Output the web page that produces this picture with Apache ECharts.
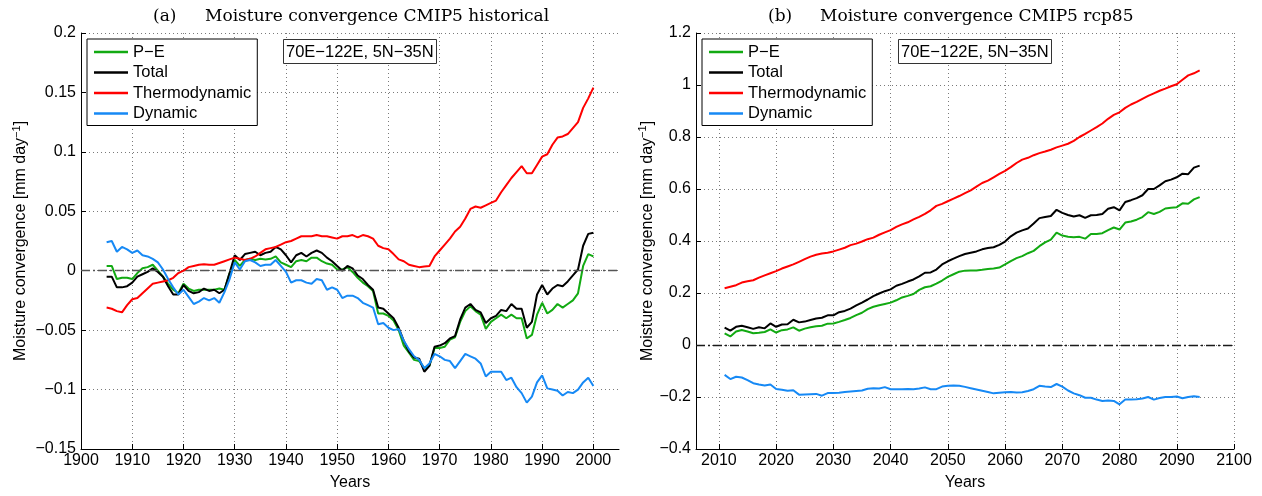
<!DOCTYPE html>
<html>
<head>
<meta charset="utf-8">
<script src="https://cdn.jsdelivr.net/npm/echarts@6/dist/echarts.min.js"></script>
<style>html,body{margin:0;padding:0;background:#fff}#c{width:1262px;height:496px}</style>
</head>
<body>
<div id="c"></div>
<script>
// ---------- Panel (a): CMIP5 historical ----------
const yearsA = [1905,1906,1907,1908,1909,1910,1911,1912,1913,1914,1915,1916,1917,1918,1919,1920,1921,1922,1923,1924,1925,1926,1927,1928,1929,1930,1931,1932,1933,1934,1935,1936,1937,1938,1939,1940,1941,1942,1943,1944,1945,1946,1947,1948,1949,1950,1951,1952,1953,1954,1955,1956,1957,1958,1959,1960,1961,1962,1963,1964,1965,1966,1967,1968,1969,1970,1971,1972,1973,1974,1975,1976,1977,1978,1979,1980,1981,1982,1983,1984,1985,1986,1987,1988,1989,1990,1991,1992,1993,1994,1995,1996,1997,1998,1999,2000];
const peA = [0.004,0.004,-0.007,-0.006,-0.006,-0.007,-0.002,0.002,0.003,0.005,
  0.000,-0.005,-0.011,-0.016,-0.019,-0.011,-0.015,-0.017,-0.016,-0.016,
  -0.016,-0.016,-0.015,-0.016,-0.002,0.009,0.004,0.009,0.010,0.009,
  0.010,0.0095,0.010,0.012,0.007,0.005,0.003,0.008,0.009,0.008,
  0.011,0.011,0.008,0.006,0.005,0.001,0.001,0.003,-0.001,-0.006,
  -0.010,-0.013,-0.017,-0.036,-0.036,-0.038,-0.042,-0.050,-0.063,-0.069,
  -0.075,-0.076,-0.082,-0.080,-0.065,-0.065,-0.064,-0.058,-0.056,-0.043,
  -0.034,-0.030,-0.034,-0.037,-0.049,-0.043,-0.040,-0.037,-0.040,-0.037,
  -0.040,-0.040,-0.057,-0.054,-0.037,-0.027,-0.036,-0.033,-0.028,-0.031,
  -0.028,-0.025,-0.019,0.004,0.014,0.012];
const totalA = [-0.005,-0.005,-0.014,-0.014,-0.013,-0.010,-0.005,-0.003,-0.001,0.002,
  -0.001,-0.005,-0.013,-0.020,-0.020,-0.012,-0.017,-0.019,-0.018,-0.015,
  -0.017,-0.016,-0.019,-0.016,-0.002,0.013,0.009,0.014,0.015,0.016,
  0.013,0.015,0.016,0.020,0.018,0.013,0.007,0.013,0.015,0.012,
  0.015,0.017,0.015,0.011,0.008,0.004,0.000,0.004,0.002,-0.004,
  -0.007,-0.012,-0.016,-0.031,-0.032,-0.036,-0.040,-0.048,-0.059,-0.068,
  -0.073,-0.074,-0.085,-0.080,-0.064,-0.063,-0.061,-0.057,-0.055,-0.041,
  -0.031,-0.028,-0.033,-0.035,-0.044,-0.040,-0.038,-0.033,-0.034,-0.028,
  -0.032,-0.032,-0.048,-0.043,-0.020,-0.012,-0.020,-0.015,-0.012,-0.013,
  -0.009,-0.004,0.001,0.021,0.031,0.032];
const thermoA = [-0.031,-0.032,-0.034,-0.035,-0.029,-0.024,-0.023,-0.019,-0.015,-0.011,
  -0.010,-0.009,-0.008,-0.006,-0.002,0.000,0.003,0.004,0.005,0.0055,
  0.005,0.005,0.0065,0.008,0.0095,0.011,0.010,0.009,0.010,0.012,
  0.015,0.018,0.019,0.020,0.022,0.024,0.025,0.027,0.029,0.029,
  0.029,0.030,0.029,0.029,0.028,0.027,0.029,0.029,0.030,0.028,
  0.030,0.029,0.027,0.021,0.019,0.018,0.014,0.0095,0.008,0.005,
  0.004,0.003,0.0035,0.004,0.012,0.017,0.022,0.027,0.033,0.037,
  0.044,0.052,0.054,0.053,0.055,0.057,0.059,0.066,0.072,0.078,
  0.083,0.088,0.082,0.082,0.089,0.096,0.098,0.106,0.112,0.113,
  0.115,0.120,0.125,0.137,0.145,0.154];
const dynA = [0.024,0.025,0.016,0.020,0.018,0.015,0.017,0.013,0.012,0.010,
  0.007,0.001,-0.007,-0.014,-0.020,-0.016,-0.022,-0.028,-0.026,-0.023,
  -0.025,-0.023,-0.027,-0.018,-0.007,0.007,0.001,0.008,0.009,0.007,
  0.004,0.005,0.005,0.009,0.004,-0.001,-0.010,-0.008,-0.008,-0.010,
  -0.011,-0.007,-0.008,-0.016,-0.014,-0.016,-0.023,-0.021,-0.021,-0.023,
  -0.027,-0.029,-0.031,-0.045,-0.044,-0.048,-0.050,-0.049,-0.059,-0.066,
  -0.072,-0.075,-0.082,-0.078,-0.070,-0.072,-0.075,-0.076,-0.082,-0.076,
  -0.070,-0.072,-0.074,-0.078,-0.089,-0.085,-0.085,-0.085,-0.092,-0.090,
  -0.098,-0.103,-0.111,-0.106,-0.094,-0.088,-0.099,-0.100,-0.101,-0.105,
  -0.102,-0.103,-0.100,-0.094,-0.090,-0.097];

// ---------- Panel (b): CMIP5 rcp85 ----------
const yearsB = [2011,2012,2013,2014,2015,2016,2017,2018,2019,2020,2021,2022,2023,2024,2025,2026,2027,2028,2029,2030,2031,2032,2033,2034,2035,2036,2037,2038,2039,2040,2041,2042,2043,2044,2045,2046,2047,2048,2049,2050,2051,2052,2053,2054,2055,2056,2057,2058,2059,2060,2061,2062,2063,2064,2065,2066,2067,2068,2069,2070,2071,2072,2073,2074,2075,2076,2077,2078,2079,2080,2081,2082,2083,2084,2085,2086,2087,2088,2089,2090,2091,2092,2093,2094];
const peB = [0.045,0.033,0.052,0.058,0.052,0.045,0.047,0.050,0.060,0.048,
  0.057,0.060,0.068,0.055,0.063,0.068,0.072,0.074,0.082,0.083,
  0.089,0.096,0.104,0.115,0.124,0.138,0.147,0.153,0.158,0.163,
  0.172,0.183,0.189,0.196,0.212,0.222,0.226,0.236,0.248,0.262,
  0.272,0.282,0.286,0.287,0.287,0.289,0.292,0.294,0.298,0.310,
  0.323,0.334,0.342,0.353,0.362,0.380,0.395,0.405,0.432,0.421,
  0.416,0.414,0.416,0.409,0.427,0.427,0.430,0.442,0.452,0.444,
  0.471,0.475,0.482,0.492,0.511,0.504,0.512,0.525,0.528,0.530,
  0.545,0.543,0.560,0.569];
const totalB = [0.067,0.055,0.070,0.074,0.068,0.062,0.068,0.064,0.083,0.070,
  0.079,0.080,0.097,0.087,0.090,0.096,0.102,0.105,0.114,0.114,
  0.126,0.131,0.140,0.152,0.163,0.175,0.188,0.198,0.207,0.214,
  0.228,0.235,0.244,0.252,0.264,0.278,0.279,0.290,0.310,0.322,
  0.332,0.342,0.350,0.355,0.360,0.368,0.373,0.376,0.385,0.398,
  0.418,0.432,0.441,0.448,0.467,0.488,0.492,0.496,0.520,0.508,
  0.500,0.494,0.499,0.489,0.499,0.500,0.504,0.524,0.530,0.518,
  0.550,0.557,0.565,0.576,0.600,0.600,0.614,0.630,0.636,0.645,
  0.659,0.657,0.682,0.690];
const thermoB = [0.218,0.224,0.230,0.240,0.245,0.249,0.259,0.268,0.276,0.284,
  0.294,0.302,0.310,0.320,0.330,0.340,0.347,0.352,0.355,0.360,
  0.367,0.374,0.384,0.390,0.398,0.407,0.413,0.424,0.433,0.442,
  0.454,0.464,0.472,0.483,0.493,0.504,0.518,0.535,0.543,0.553,
  0.563,0.573,0.584,0.595,0.609,0.623,0.632,0.645,0.658,0.670,
  0.684,0.700,0.713,0.720,0.730,0.738,0.744,0.751,0.760,0.767,
  0.774,0.785,0.800,0.812,0.825,0.838,0.852,0.870,0.885,0.895,
  0.912,0.925,0.935,0.947,0.958,0.968,0.978,0.986,0.995,1.003,
  1.020,1.037,1.045,1.056];
const dynB = [-0.115,-0.131,-0.122,-0.125,-0.135,-0.147,-0.152,-0.156,-0.152,-0.169,
  -0.172,-0.176,-0.174,-0.191,-0.190,-0.189,-0.188,-0.195,-0.185,-0.185,
  -0.184,-0.181,-0.179,-0.177,-0.175,-0.168,-0.166,-0.167,-0.162,-0.170,
  -0.170,-0.170,-0.169,-0.170,-0.167,-0.163,-0.170,-0.170,-0.160,-0.157,
  -0.156,-0.157,-0.161,-0.166,-0.171,-0.176,-0.181,-0.186,-0.184,-0.182,
  -0.181,-0.183,-0.182,-0.177,-0.170,-0.157,-0.160,-0.162,-0.150,-0.160,
  -0.175,-0.186,-0.193,-0.203,-0.203,-0.210,-0.215,-0.213,-0.215,-0.228,
  -0.210,-0.210,-0.209,-0.206,-0.200,-0.210,-0.204,-0.200,-0.200,-0.198,
  -0.205,-0.200,-0.197,-0.200];

// ---------- Tick labels / text ----------
const xTicksA = [1900,1910,1920,1930,1940,1950,1960,1970,1980,1990,2000];
const xTicksB = [2010,2020,2030,2040,2050,2060,2070,2080,2090,2100];
const seriesNames = ['P\u2212E','Total','Thermodynamic','Dynamic'];
const colors = ['#12aa12','#000000','#ff0000','#1689f5'];
const regionText = '70E\u2212122E, 5N\u221235N';

const SANS = 'Liberation Sans, Arial, Helvetica, sans-serif';
const SERIF = 'DejaVu Serif, serif';
const fmtY = v => String(+v.toFixed(4)).replace('-', '\u2212');

function makeX(idx, min, max, ticks) {
  return {
    type: 'value', gridIndex: idx, min: min, max: max,
    name: 'Years', nameLocation: 'middle', nameGap: 26,
    nameTextStyle: {fontFamily: SANS, fontSize: 16, color: '#000'},
    axisLine: {show: true, onZero: false, lineStyle: {color: '#000', width: 1}},
    axisTick: {show: true, inside: true, length: 5, lineStyle: {color: '#000'}, customValues: ticks},
    axisLabel: {fontFamily: SANS, fontSize: 16, color: '#000', margin: 4, customValues: ticks, formatter: v => String(v)},
    splitLine: {show: true, lineStyle: {type: [1, 3], color: '#7a7a7a', width: 1}}
  };
}
function makeY(idx, min, max, interval, gap) {
  return {
    type: 'value', gridIndex: idx, min: min, max: max, interval: interval,
    name: 'Moisture convergence [mm day{sup|\u22121}]', nameLocation: 'middle', nameGap: gap,
    nameTextStyle: {fontFamily: SANS, fontSize: 16, color: '#000',
      rich: {sup: {fontFamily: SANS, fontSize: 11, color: '#000', padding: [0, 0, 9, 0]}}},
    axisLine: {show: true, onZero: false, lineStyle: {color: '#000', width: 1}},
    axisTick: {show: true, inside: true, length: 5, lineStyle: {color: '#000'}},
    axisLabel: {fontFamily: SANS, fontSize: 16, color: '#000', margin: 5, formatter: fmtY},
    splitLine: {show: true, lineStyle: {type: [1, 3], color: '#7a7a7a', width: 1}}
  };
}
function makeSeries(idx, years, arrs, zeroColor) {
  return arrs.map((arr, k) => {
    const s = {
      name: seriesNames[k], type: 'line', xAxisIndex: idx, yAxisIndex: idx,
      data: years.map((y, i) => [y, arr[i]]),
      showSymbol: false, symbol: 'none', smooth: false,
      lineStyle: {color: colors[k], width: 2},
      itemStyle: {color: colors[k]},
      z: 3 + k
    };
    if (k === 0) {
      s.markLine = {
        silent: true, symbol: 'none', label: {show: false}, animation: false,
        lineStyle: {color: zeroColor, width: 1.4, type: [9, 3, 2, 3]},
        data: [{yAxis: 0}]
      };
    }
    return s;
  });
}
function makeLegend(left) {
  return {
    data: seriesNames, orient: 'vertical', left: left, top: 39,
    padding: [3, 6, 2, 7], itemGap: 0.5, itemWidth: 34, itemHeight: 2.5, icon: 'rect',
    backgroundColor: '#fff', borderColor: '#000', borderWidth: 1, borderRadius: 0,
    selectedMode: false,
    textStyle: {fontFamily: SANS, fontSize: 16.5, color: '#000', lineHeight: 20, padding: [0, 0, 0, 0]}
  };
}
const titleStyle = {fontFamily: SERIF, fontSize: 17, fontWeight: 'normal', color: '#000'};
const boxStyle = {fontFamily: SANS, fontSize: 16.5, color: '#000', lineHeight: 18, fontWeight: 'normal'};

const option = {
  animation: false,
  backgroundColor: '#fff',
  title: [
    {text: '(a)', left: 153, top: 8, padding: 0, textStyle: titleStyle},
    {text: 'Moisture convergence CMIP5 historical', left: 205, top: 8, padding: 0, textStyle: titleStyle},
    {text: '(b)', left: 768, top: 8, padding: 0, textStyle: titleStyle},
    {text: 'Moisture convergence CMIP5 rcp85', left: 820, top: 8, padding: 0, textStyle: titleStyle},
    {text: regionText, left: 283, top: 39, padding: [4, 3, 3, 3], borderColor: '#333', borderWidth: 1, backgroundColor: '#fff', textStyle: boxStyle},
    {text: regionText, left: 898, top: 39, padding: [4, 3, 3, 3], borderColor: '#333', borderWidth: 1, backgroundColor: '#fff', textStyle: boxStyle}
  ],
  legend: [makeLegend(87), makeLegend(702)],
  grid: [
    {left: 81, top: 33, width: 538, height: 424, containLabel: false},
    {left: 696, top: 33, width: 538, height: 424, containLabel: false}
  ],
  xAxis: [makeX(0, 1900, 2005, xTicksA), makeX(1, 2006, 2100, xTicksB)],
  yAxis: [makeY(0, -0.15, 0.2, 0.05, 50), makeY(1, -0.4, 1.2, 0.2, 38)],
  series: [].concat(
    makeSeries(0, yearsA, [peA, totalA, thermoA, dynA], '#555'),
    makeSeries(1, yearsB, [peB, totalB, thermoB, dynB], '#1a1a1a')
  )
};
const chart = echarts.init(document.getElementById('c'), null, {renderer: 'canvas'});
chart.setOption(option);
</script>
</body>
</html>
